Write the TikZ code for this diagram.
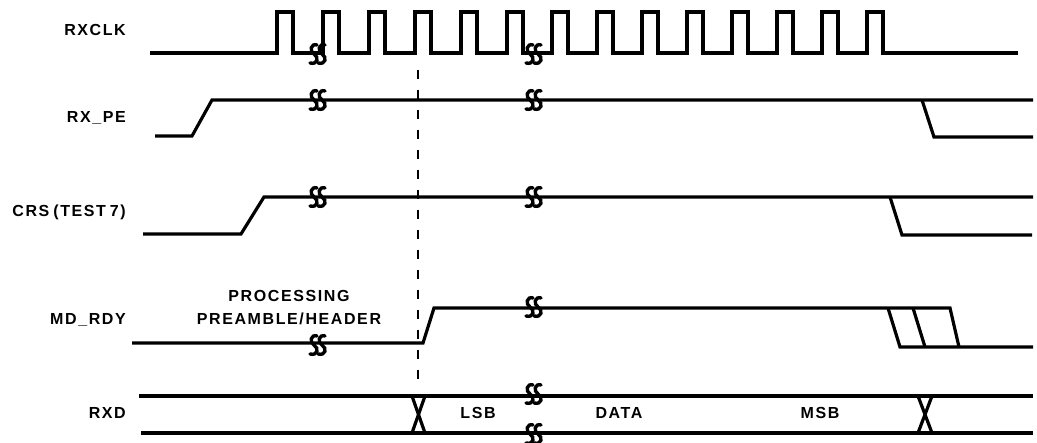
\documentclass[tikz,border=0pt]{standalone}
\usepackage{fontspec}
\setmainfont{Liberation Sans}
\newfontfamily\sigfont{Liberation Sans}[LetterSpace=10]
\usepackage{tikz}
\usetikzlibrary{calc}
\tikzset{>=stealth}
\tikzset{
  wave/.style={line width=3.2pt},
  siglabel/.style={font=\sigfont\bfseries\fontsize{16}{19}\selectfont, inner sep=0pt},
  brkmark/.pic={
    \draw[line width=3.4pt, line cap=round] (0,-9) .. controls (-6,-11) and (-8,-3) .. (-3,0) .. controls (2,3) and (1,11) .. (-7,9);
    \draw[line width=3.4pt, line cap=round] (8,-9) .. controls (2,-11) and (0,-3) .. (5,0) .. controls (10,3) and (9,11) .. (1,9);
  }
}

\begin{document}
\begin{tikzpicture}[x=1pt, y=-1pt]
      \useasboundingbox (0,0) rectangle (1037,443);
      \node[siglabel, anchor=base east] (lclk) at (126,36) {RXCLK};
      \node[siglabel, anchor=base east] (lpe) at (126,123) {RX\_PE};
      \node[siglabel, anchor=base east] (lcrs) at (126,217) {CRS\hspace{4pt}(TEST\hspace{4pt}7)};
      \node[siglabel, anchor=base east] (lrdy) at (126,325) {MD\_RDY};
      \node[siglabel, anchor=base east] (lrxd) at (126,419) {RXD};
      \node[siglabel, anchor=base] (lproc) at (289,302) {PROCESSING};
      \node[siglabel, anchor=base] (lpre) at (289,325) {PREAMBLE/HEADER};
      \node[siglabel, anchor=base] (llsb) at (478,419) {LSB};
      \node[siglabel, anchor=base] (ldata) at (619,419) {DATA};
      \node[siglabel, anchor=base] (lmsb) at (820,419) {MSB};
      \draw[line width=1.2pt, dash pattern=on 9pt off 11pt] (418,70) -- (418,380);
      \draw[wave] (150,53) -- (277,53) |- (293,12) |- (323,53) |- (339,12) |- (369,53) |- (385,12)
        |- (415,53) |- (431,12) |- (461,53) |- (477,12) |- (507,53) |- (523,12) |- (552,53) |- (568,12)
        |- (597,53) |- (613,12) |- (642,53) |- (658,12) |- (687,53) |- (703,12) |- (732,53) |- (748,12)
        |- (777,53) |- (793,12) |- (822,53) |- (838,12) |- (867,53) |- (883,12) |- (1018,53);
      \draw[wave] (155,136) -- (192,136) -- (212,100) -- (1033,100);
      \draw[wave] (922,100) -- (934,137) -- (1033,137);
      \draw[wave] (143,234) -- (241,234) -- (264,197) -- (1033,197);
      \draw[wave] (890,197) -- (902,235) -- (1032,235);
      \draw[wave] (132,343) -- (423,343) -- (434,308) -- (950,308) -- (959,347);
      \draw[wave] (888,308) -- (900,347) -- (1033,347);
      \draw[wave] (913,308) -- (925,347);
      \draw[wave] (139,396) -- (1033,396);
      \draw[wave] (141,433) -- (1033,433);
      \draw[wave] (412,396) -- (425,433);
      \draw[wave] (425,396) -- (412,433);
      \draw[wave] (918,396) -- (932,433);
      \draw[wave] (932,396) -- (918,433);
      \pic at (317,54) {brkmark};
      \pic at (317,100) {brkmark};
      \pic at (317,197) {brkmark};
      \pic at (317,345) {brkmark};
      \pic at (533,54) {brkmark};
      \pic at (533,100) {brkmark};
      \pic at (533,197) {brkmark};
      \pic at (533,307) {brkmark};
      \pic at (533,394) {brkmark};
      \pic at (533,434) {brkmark};
\end{tikzpicture}
\end{document}
